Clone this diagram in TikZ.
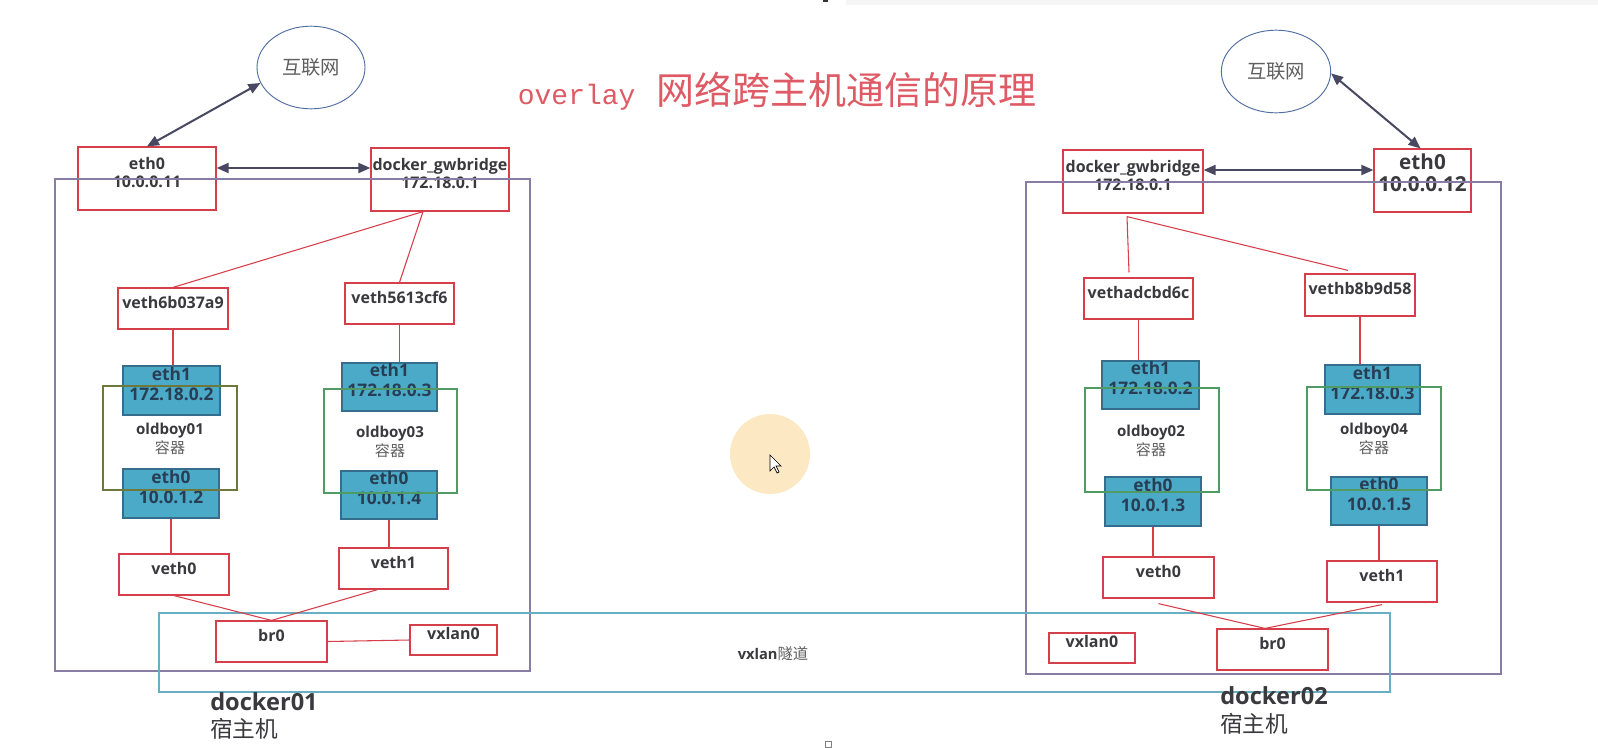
\documentclass[tikz,border=0pt]{standalone}
\usepackage{fontspec}
\usetikzlibrary{fit,calc,arrows.meta,shapes.geometric}
\newfontfamily\lab{Open Sans}
\newfontfamily\cjk{Noto Sans CJK SC}
\newfontfamily\mono{Liberation Mono}
\definecolor{redc}{RGB}{214,62,74}
\definecolor{titlec}{RGB}{222,90,100}
\definecolor{txtc}{RGB}{58,58,62}
\definecolor{bluef}{RGB}{75,170,200}
\definecolor{bluebd}{RGB}{52,110,140}
\definecolor{bluetxt}{RGB}{40,62,84}
\definecolor{greenc}{RGB}{80,155,100}
\definecolor{olivec}{RGB}{110,120,60}
\definecolor{hostc}{RGB}{135,125,165}
\definecolor{tunc}{RGB}{105,175,195}
\definecolor{ellc}{RGB}{80,110,160}
\definecolor{arrc}{RGB}{72,72,96}
\definecolor{hlc}{RGB}{253,232,196}
\definecolor{greytxt}{RGB}{95,95,95}
\tikzset{
  rbox/.style={draw=redc, line width=0.9pt, inner sep=0pt, align=center, text=txtc,
    font=\lab\bfseries\fontsize{12}{14}\selectfont},
  bbox/.style={draw=bluebd, fill=bluef, line width=0.9pt, inner sep=0pt, align=center, text=bluetxt,
    font=\lab\bfseries\fontsize{13}{15}\selectfont},
  gbox/.style={draw=#1, line width=0.9pt, inner sep=0pt},
  hbox/.style={draw=hostc, line width=0.9pt, inner sep=0pt},
  tbox/.style={draw=tunc, line width=1pt, inner sep=0pt},
  netell/.style={ellipse, draw=ellc, line width=0.7pt, inner sep=0pt, text=greytxt,
    font=\cjk\fontsize{14.5}{16}\selectfont},
  rline/.style={draw=redc, line width=0.8pt},
  arr/.style={{Triangle[length=9pt,width=7.5pt]}-{Triangle[length=9pt,width=7.5pt]}, draw=arrc, line width=1.5pt},
  ctext/.style={align=center, text=txtc, inner sep=0pt, font=\lab\bfseries\fontsize{11.3}{14}\selectfont},
  hostlab/.style={anchor=west, inner sep=0pt, text=txtc, font=\lab\bfseries\fontsize{17.7}{19}\selectfont},
  hostsub/.style={anchor=west, inner sep=0pt, text=txtc, font=\cjk\fontsize{17}{19}\selectfont},
}
\begin{document}
\begin{tikzpicture}[x=0.75pt,y=-0.75pt]
\useasboundingbox (0,0) rectangle (1598,747);
\fill[white] (0,0) rectangle (1598,747);
% screen artefacts
\fill[black!4] (846,0) rectangle (1598,5);
\fill[black!80] (823,0) rectangle (828,2);
\draw[black!50, line width=0.5pt] (825,741) rectangle (831,747);
\fill[hlc] (770,454) circle [radius=30pt];
\draw[fill=white, draw=black, line width=0.5pt, shift={(770,455)}]
  (0,0) -- (0,16) -- (4,12) -- (7,18) -- (9,17) -- (6,11) -- (11,11) -- cycle;

% title
\node[text=titlec, inner sep=0pt] (title) at (777,91)
  {{\mono\fontsize{21}{24}\selectfont overlay}\hspace{15.5pt}{\cjk\fontsize{28.5}{30}\selectfont 网络跨主机通信的原理}};

% internet
\node[netell, minimum width=81pt, minimum height=62pt] (inetL) at (311,67.5) {互联网};
\node[netell, minimum width=82pt, minimum height=62pt] (inetR) at (1276,71.5) {互联网};

% ---------- host docker01 ----------
\node[rbox, fit={(78,147) (216,210)}] (e0L) {eth0\\10.0.0.11};
\node[rbox, fit={(371,148) (509,211)}] (gwL) {docker\_gwbridge\\172.18.0.1};
\node[rbox, fit={(118,288) (228,329)}] (vaL) {veth6b037a9};
\node[rbox, fit={(345,283) (454,324)}] (vbL) {veth5613cf6};
\node[bbox, fit={(123,366) (220,415)}] (e1A) {eth1\\172.18.0.2};
\node[bbox, fit={(123,469) (219,518)}] (e0A) {eth0\\10.0.1.2};
\node[bbox, fit={(342,363) (437,411)}] (e1B) {eth1\\172.18.0.3};
\node[bbox, fit={(341,471) (437,519)}] (e0B) {eth0\\10.0.1.4};
\node[rbox, fit={(119,554) (229,595)}] (v0L) {veth0};
\node[rbox, fit={(339,548) (448,589)}] (v1L) {veth1};
\node[rbox, fit={(216,621) (327,662)}] (brL) {br0};
\node[rbox, fit={(410,625) (497,655)}] (vxL) {vxlan0};
\node[gbox=olivec, fit={(103,386) (237,490)}] (cA) {};
\node[gbox=greenc, fit={(324,389) (457,493)}] (cB) {};
\node[hbox, fit={(55,179) (530,671)}] (hostL) {};

% ---------- host docker02 ----------
\node[rbox, fit={(1063,150) (1203,213)}] (gwR) {docker\_gwbridge\\172.18.0.1};
\node[rbox, fit={(1374,149) (1471,212)}, font=\lab\bfseries\fontsize{15.5}{17}\selectfont] (e0R) {eth0\\10.0.0.12};
\node[rbox, fit={(1084,278) (1193,319)}] (vaR) {vethadcbd6c};
\node[rbox, fit={(1305,274) (1415,316)}] (vbR) {vethb8b9d58};
\node[bbox, fit={(1102,361) (1199,409)}] (e1C) {eth1\\172.18.0.2};
\node[bbox, fit={(1105,477) (1201,526)}] (e0C) {eth0\\10.0.1.3};
\node[bbox, fit={(1325,365) (1420,414)}] (e1D) {eth1\\172.18.0.3};
\node[bbox, fit={(1331,477) (1427,525)}] (e0D) {eth0\\10.0.1.5};
\node[rbox, fit={(1103,557) (1214,598)}] (v0R) {veth0};
\node[rbox, fit={(1327,561) (1437,602)}] (v1R) {veth1};
\node[rbox, fit={(1217,629) (1328,670)}] (brR) {br0};
\node[rbox, fit={(1049,633) (1135,663)}] (vxR) {vxlan0};
\node[gbox=greenc, fit={(1085,388) (1219,492)}] (cC) {};
\node[gbox=greenc, fit={(1307,387) (1441,490)}] (cD) {};
\node[hbox, fit={(1026,182) (1501,674)}] (hostR) {};

% vxlan tunnel
\node[tbox, fit={(159,613) (1390,692)}] (tun) {};

% container labels
\node[ctext] (tA) at (170,439) {oldboy01\\{\cjk\mdseries\color{greytxt}容器}};
\node[ctext] (tB) at (390,442) {oldboy03\\{\cjk\mdseries\color{greytxt}容器}};
\node[ctext] (tC) at (1151,441) {oldboy02\\{\cjk\mdseries\color{greytxt}容器}};
\node[ctext] (tD) at (1374,439) {oldboy04\\{\cjk\mdseries\color{greytxt}容器}};

% host labels
\node[hostlab] (dk1) at (210,702) {docker01};
\node[hostsub] (dk1s) at (210,729) {宿主机};
\node[hostlab] (dk2) at (1220,696) {docker02};
\node[hostsub] (dk2s) at (1220,724) {宿主机};
\node[inner sep=0pt, text=txtc] (vxt) at (773,654)
  {{\lab\bfseries\fontsize{11}{13}\selectfont vxlan}{\cjk\fontsize{11.5}{13}\selectfont\color{greytxt}隧道}};

% arrows
\draw[arr] (e0L.north) -- (inetL.197);
\draw[arr] ($(e0L.east)+(0,-10.5)$) -- ($(gwL.west)+(0,-11.5)$);
\draw[arr] ($(gwR.east)+(0,-11.5)$) -- ($(e0R.west)+(0,-10.5)$);
\draw[arr] ($(e0R.north)+(-2,0)$) -- (inetR.-2);

% red connectors left
\draw[rline] ($(gwL.south)+(-17,0)$) -- (vaL.north);
\draw[rline] ($(gwL.south)+(-17,0)$) -- (vbL.north);
\draw[rline] (vaL.south) -- (vaL.south |- e1A.north);
\draw[rline] (vbL.south) -- (vbL.south |- e1B.north);
\draw[rline] (e0A.south) -- (e0A.south |- v0L.north);
\draw[rline] (e0B.south) -- (e0B.south |- v1L.north);
\draw[rline] (v0L.south) -- (brL.north);
\draw[rline] ($(v1L.south)+(-16,0)$) -- (brL.north);
\draw[rline] (brL.east) -- (vxL.west);

% red connectors right
\draw[rline] ($(gwR.south)+(-6,3)$) -- ($(vaR.north)+(-9.5,-5)$);
\draw[rline] ($(gwR.south)+(-6,3)$) -- ($(vbR.north)+(-12,-3)$);
\draw[rline] (vaR.south) -- (vaR.south |- e1C.north);
\draw[rline] (vbR.south) -- (vbR.south |- e1D.north);
\draw[rline] (e0C.south) -- (e0C.south |- v0R.north);
\draw[rline] (e0D.south) -- (e0D.south |- v1R.north);
\draw[rline] ($(v0R.south)+(0,5)$) -- ($(brR.north)+(-7.5,0)$);
\draw[rline] ($(v1R.south)+(0,2)$) -- ($(brR.north)+(-7.5,0)$);
\end{tikzpicture}
\end{document}
